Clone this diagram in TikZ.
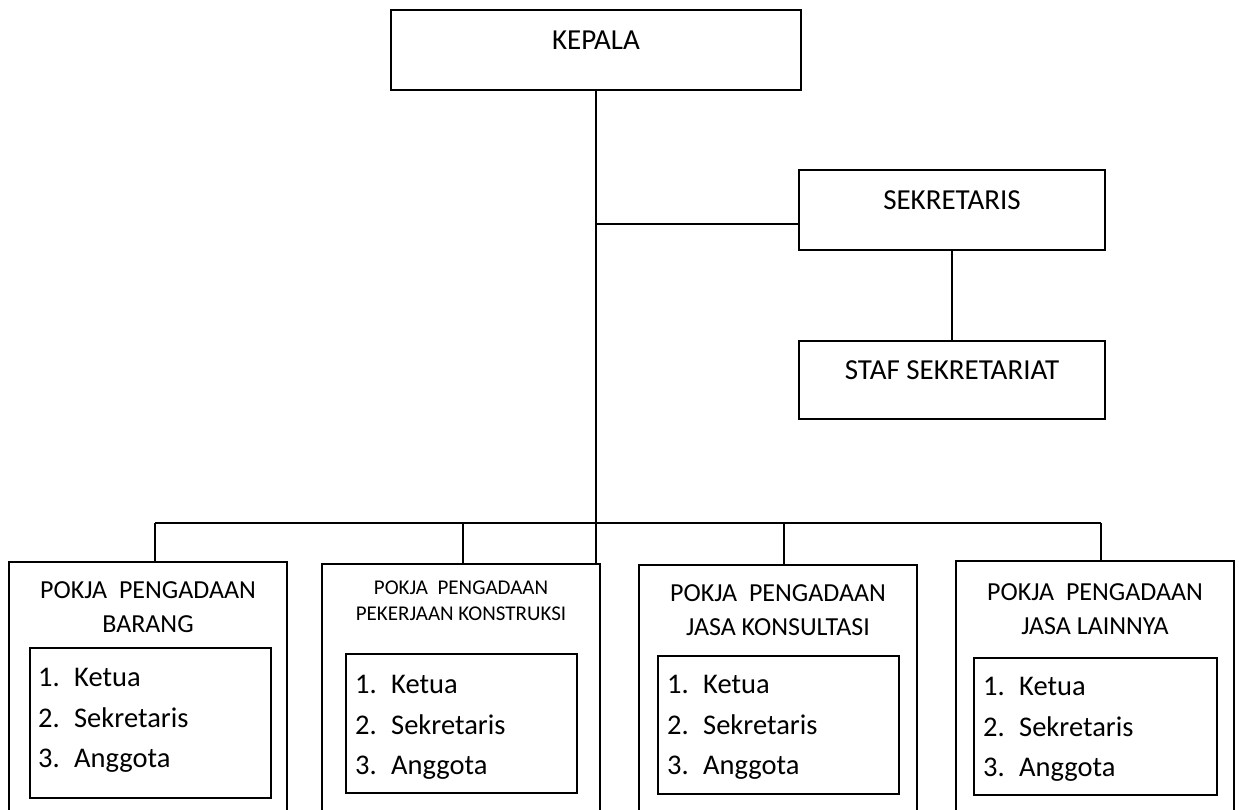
\documentclass[tikz,border=0pt]{standalone}
\usepackage{fontspec}
\setmainfont{Carlito}
\usepackage{tikz}
\newcommand{\daftar}{\makebox[36pt][l]{1.}Ketua\\\makebox[36pt][l]{2.}Sekretaris\\\makebox[36pt][l]{3.}Anggota}

\begin{document}
\begin{tikzpicture}[x=1pt,y=-1pt,
  garis/.style={line width=2pt},
  kotak/.style={draw, line width=2pt, inner sep=0pt},
  judul/.style={font=\fontsize{29}{35}\selectfont, inner sep=0pt},
  pokja/.style={kotak, anchor=north, minimum width=278pt, minimum height=270pt},
  namapokja/.style={font=\fontsize{26}{34}\selectfont, align=center, anchor=north, inner sep=0pt},
  isian/.style={kotak, anchor=north west},
  daftarisi/.style={font=\fontsize{28.5}{40.5}\selectfont, align=left, anchor=north west, inner sep=0pt}]
\useasboundingbox (0,0) rectangle (1239,810);
% atas
\node[kotak, minimum width=410pt, minimum height=80pt] (kepala) at (596,50) {};
\node[judul] (kepalatxt) at (596,40) {KEPALA};
\node[kotak, minimum width=306pt, minimum height=80pt] (sekretaris) at (952,210) {};
\node[judul] (sekretaristxt) at (952,200) {SEKRETARIS};
\node[kotak, minimum width=306pt, minimum height=78pt] (staf) at (952,380) {};
\node[judul] (staftxt) at (952,370.5) {STAF SEKRETARIAT};
% pokja
\node[pokja] (pokja1) at (148,561) {};
\node[pokja] (pokja2) at (461,563) {};
\node[pokja] (pokja3) at (778,564) {};
\node[pokja] (pokja4) at (1095,560) {};
\node[namapokja] (judul1) at (148,581) {POKJA\ \ PENGADAAN\\BARANG};
\node[namapokja, font=\fontsize{21}{26}\selectfont] (judul2) at (461,581) {POKJA\ \ PENGADAAN\\PEKERJAAN KONSTRUKSI};
\node[namapokja] (judul3) at (778,584) {POKJA\ \ PENGADAAN\\JASA KONSULTASI};
\node[namapokja] (judul4) at (1095,583) {POKJA\ \ PENGADAAN\\JASA LAINNYA};
\node[isian, minimum width=241pt, minimum height=150pt] (isi1) at (29,647) {};
\node[isian, minimum width=231pt, minimum height=139pt] (isi2) at (345,653) {};
\node[isian, minimum width=241pt, minimum height=138pt] (isi3) at (657,655) {};
\node[isian, minimum width=243pt, minimum height=137pt] (isi4) at (973,657) {};
\node[daftarisi] (daftar1) at ([shift={(9,21)}]isi1.north west) {\daftar};
\node[daftarisi] (daftar2) at ([shift={(10,22)}]isi2.north west) {\daftar};
\node[daftarisi] (daftar3) at ([shift={(10,20)}]isi3.north west) {\daftar};
\node[daftarisi] (daftar4) at ([shift={(10,20)}]isi4.north west) {\daftar};
% garis
\draw[garis] (kepala.south) -- (kepala.south |- pokja2.north);
\coordinate (cabang) at (596,224);
\draw[garis] (cabang) -- (cabang -| sekretaris.west);
\draw[garis] (sekretaris.south) -- (sekretaris.south |- staf.north);
\coordinate (b1) at (155,523);
\coordinate (b2) at (463,523);
\coordinate (b3) at (784,523);
\coordinate (b4) at (1101,523);
\draw[garis] (b1) -- (b4);
\draw[garis] (b1) -- (b1 |- pokja1.north);
\draw[garis] (b2) -- (b2 |- pokja2.north);
\draw[garis] (b3) -- (b3 |- pokja3.north);
\draw[garis] (b4) -- (b4 |- pokja4.north);
\end{tikzpicture}
\end{document}
